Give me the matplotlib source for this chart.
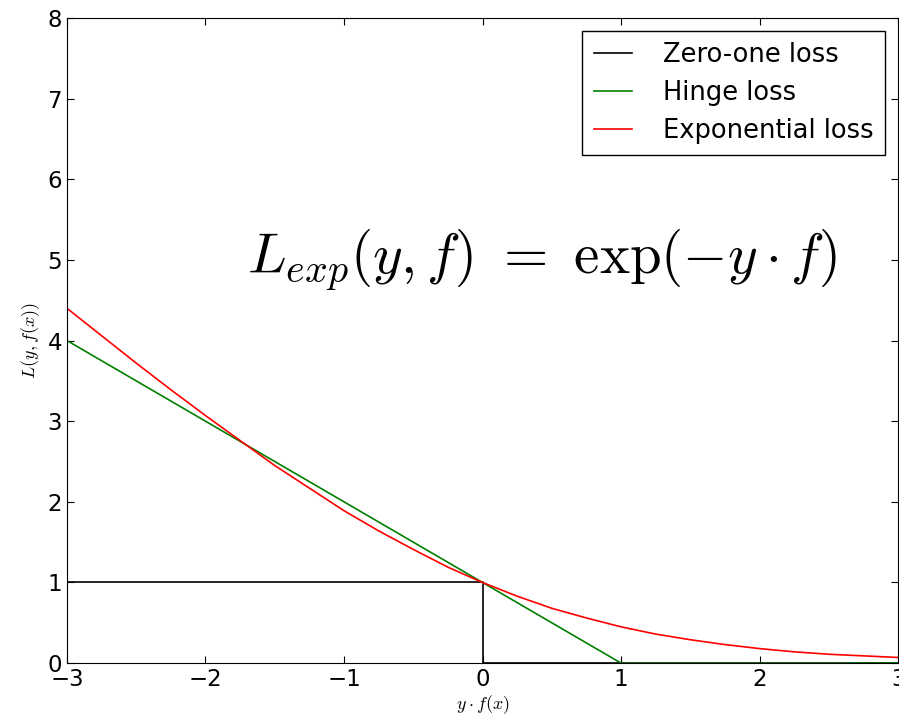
import matplotlib
matplotlib.use("Agg")
import matplotlib.pyplot as plt

plt.rcParams['mathtext.fontset'] = 'cm'

# zero-one loss
zo_x = [-3, 0, 0, 3]
zo_y = [1, 1, 0, 0]

# hinge loss
hinge_x = [-3, 1, 3]
hinge_y = [4, 0, 0]

# "exponential" loss
exp_x = [-3, -2.75, -2.5, -2.25, -2, -1.75, -1.5, -1.25, -1, -0.75, -0.5, -0.25,
         0, 0.25, 0.5, 0.75, 1, 1.25, 1.5, 1.75, 2, 2.25, 2.5, 2.75, 3]
exp_y = [4.40, 4.06, 3.72, 3.39, 3.07, 2.76, 2.45, 2.17, 1.89, 1.64, 1.41, 1.19,
         1.00, 0.83, 0.68, 0.56, 0.45, 0.36, 0.29, 0.23, 0.18, 0.14, 0.11, 0.09, 0.07]

fig = plt.figure(figsize=(8.99, 7.2), dpi=100)
ax = fig.add_axes([0.0745, 0.079, 0.9245, 0.896])

ax.plot(zo_x, zo_y, color='k', lw=1.2, label='Zero-one loss')
ax.plot(hinge_x, hinge_y, color=(0, 0.5, 0), lw=1.2, label='Hinge loss')
ax.plot(exp_x, exp_y, color='r', lw=1.2, label='Exponential loss')

ax.set_xlim(-3, 3)
ax.set_ylim(0, 8)
ax.tick_params(direction='in', top=True, right=True, labelsize=16.5, length=5)
ax.set_xlabel(r'$y \cdot f(x)$', fontsize=13, labelpad=2)
ax.set_ylabel(r'$L(y, f(x))$', fontsize=13, labelpad=4)

ax.text(0.43, 5.0, r'$L_{exp}(y, f)\ =\ \exp(-y \cdot f)$', fontsize=41,
        ha='center', va='center')

leg = ax.legend(loc='upper right', fontsize=18.5, fancybox=False, framealpha=1,
                edgecolor='k', handlelength=1.5, handletextpad=1.2,
                labelspacing=0.45, borderpad=0.45, borderaxespad=0.5)
leg.get_frame().set_linewidth(1.0)

fig.savefig('out.png', dpi=100)
